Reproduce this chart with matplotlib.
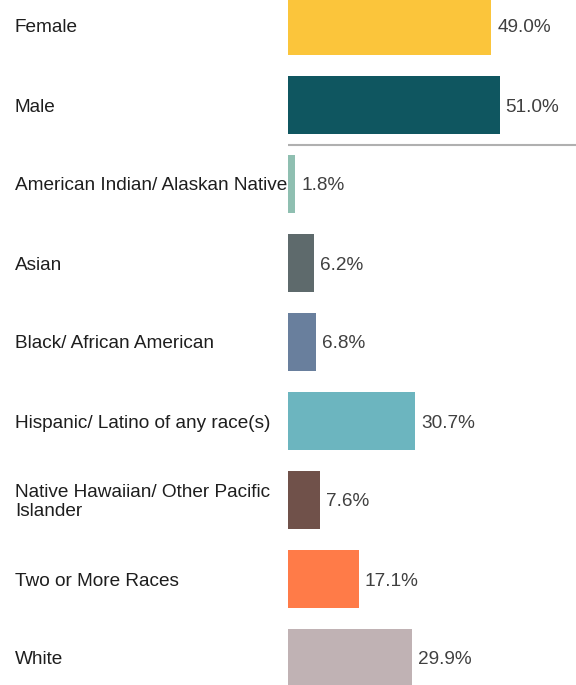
import matplotlib.pyplot as plt
from matplotlib.transforms import blended_transform_factory, offset_copy

categories = [
    "Female",
    "Male",
    "American Indian/ Alaskan Native",
    "Asian",
    "Black/ African American",
    "Hispanic/ Latino of any race(s)",
    "Native Hawaiian/ Other Pacific\nIslander",
    "Two or More Races",
    "White",
]
values = [49.0, 51.0, 1.8, 6.2, 6.8, 30.7, 7.6, 17.1, 29.9]
colors = ["#fbc53b", "#0f5660", "#8fbfb1", "#5e6a6c", "#697f9d",
          "#6cb5bf", "#70514a", "#ff7b48", "#c0b2b4"]

plt.rcParams["font.family"] = ["Liberation Sans", "DejaVu Sans"]

W, H = 576, 685
fig = plt.figure(figsize=(W / 100, H / 100), dpi=100)
ax = fig.add_axes([288 / W, 0, 1 - 288 / W, 1])

step = 79.0
first = 26.0
ypos = list(range(len(categories)))
ax.barh(ypos, values, height=58 / step, color=colors)

ax.set_xlim(0, (W - 288) / 4.15)
ax.set_ylim((H - first) / step, -first / step)
ax.axis("off")

fs = 13.7
lab_tr = offset_copy(blended_transform_factory(fig.transFigure, ax.transData),
                     fig=fig, x=0, y=-2, units="dots")
val_tr = offset_copy(ax.transData, fig=fig, x=6, y=-2, units="dots")
for y, cat, v in zip(ypos, categories, values):
    ax.text(15 / W, y, cat, transform=lab_tr, ha="left", va="center",
            fontsize=fs, color="#1e1e1e", linespacing=1.2)
    ax.text(v, y, f"{v:.1f}%", transform=val_tr, ha="left", va="center",
            fontsize=fs, color="#404040")

# divider between gender and race groups
ax.axhline(1.5, xmin=0, xmax=1, color="#b0b0b0", linewidth=1.5)

fig.savefig("out.png", dpi=100)
